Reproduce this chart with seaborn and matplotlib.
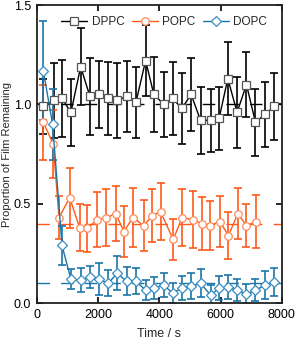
import pandas as pd
import matplotlib
matplotlib.use("Agg")
import matplotlib.pyplot as plt
import seaborn as sns

# Time points (s) and film proportions
dppc_t = [215, 564, 825, 1118, 1435, 1738, 2021, 2336, 2629, 2935, 3238, 3554, 3825,
          4151, 4435, 4738, 5041, 5348, 5674, 5954, 6238, 6541, 6847, 7140, 7453, 7760]
dppc_y = [0.99, 1.02, 1.03, 0.96, 1.19, 1.04, 1.05, 1.03, 1.02, 1.04, 1.01, 1.22, 1.05,
          1.00, 1.03, 0.98, 1.05, 0.92, 0.92, 0.93, 1.13, 0.96, 1.10, 0.91, 0.95, 0.99]
dppc_err = [0.14, 0.19, 0.195, 0.17, 0.195, 0.195, 0.17, 0.185, 0.19, 0.18, 0.18, 0.18, 0.19,
            0.165, 0.185, 0.18, 0.185, 0.17, 0.16, 0.16, 0.185, 0.18, 0.165, 0.17, 0.165, 0.17]

popc_t = [215, 541, 727, 1076, 1402, 1650, 1976, 2276, 2579, 2846, 3140, 3499,
          3769, 4043, 4454, 4747, 5086, 5390, 5651, 5977, 6260, 6564, 6847, 7173]
popc_y = [0.91, 0.80, 0.43, 0.53, 0.38, 0.376, 0.42, 0.43, 0.45, 0.36, 0.43, 0.39,
          0.44, 0.46, 0.32, 0.43, 0.42, 0.40, 0.39, 0.41, 0.34, 0.45, 0.39, 0.41]
popc_err = [0.19, 0.17, 0.11, 0.15, 0.12, 0.12, 0.14, 0.145, 0.14, 0.13, 0.15, 0.13,
            0.135, 0.145, 0.105, 0.145, 0.145, 0.135, 0.125, 0.13, 0.12, 0.13, 0.11, 0.135]

dopc_t = [215, 520, 825, 1118, 1435, 1738, 2021, 2336, 2629, 2935, 3238, 3554, 3825,
          4151, 4435, 4738, 5041, 5348, 5674, 5954, 6238, 6541, 6847, 7140, 7453, 7760]
dopc_y = [1.17, 0.90, 0.29, 0.12, 0.115, 0.13, 0.12, 0.10, 0.15, 0.11, 0.11, 0.065, 0.075,
          0.09, 0.05, 0.075, 0.085, 0.10, 0.04, 0.075, 0.08, 0.065, 0.045, 0.065, 0.09, 0.105]
dopc_err = [0.25, 0.18, 0.10, 0.05, 0.06, 0.055, 0.08, 0.065, 0.085, 0.07, 0.065, 0.05, 0.055,
            0.06, 0.05, 0.06, 0.065, 0.07, 0.05, 0.06, 0.06, 0.055, 0.05, 0.055, 0.07, 0.07]

# plateau levels (dashed guides)
levels = {"DPPC": 1.0, "POPC": 0.4, "DOPC": 0.1}

series = [
    ("DPPC", dppc_t, dppc_y, dppc_err, "black", "#555555", "s", 5.2),
    ("POPC", popc_t, popc_y, popc_err, "#ff5a1a", "#ff8a5a", "o", 5.4),
    ("DOPC", dopc_t, dopc_y, dopc_err, "#1b75a8", "#3a8cc0", "D", 4.6),
]

sns.set_style("ticks")
plt.rcParams["font.family"] = ["Liberation Sans", "DejaVu Sans"]

fig = plt.figure(figsize=(2.96, 3.39), dpi=100)
ax = fig.add_axes([0.124, 0.106, 0.828, 0.879])

for name, t, y, err, col, edge, mk, ms in series:
    ax.axhline(levels[name], color=col, lw=1.0, linestyle=(0, (9, 8)), zorder=1)

for name, t, y, err, col, edge, mk, ms in series:
    df = pd.DataFrame({"Time": t, "Value": y})
    ax.errorbar(t, y, yerr=err, fmt="none", ecolor=col, elinewidth=1.2,
                capsize=2.6, capthick=1.2, zorder=2)
    sns.lineplot(ax=ax, x="Time", y="Value", data=df, color=col, lw=1.0,
                 marker=mk, markersize=ms,
                 markerfacecolor="white", markeredgecolor=edge,
                 markeredgewidth=0.9, label=name, zorder=3)

ax.set_xlim(0, 8000)
ax.set_ylim(0, 1.5)
ax.set_xticks([0, 2000, 4000, 6000, 8000])
ax.set_yticks([0.0, 0.5, 1.0, 1.5])
ax.set_xlabel("Time / s", fontsize=9, labelpad=5)
ax.set_ylabel("Proportion of Film Remaining", fontsize=8)
ax.yaxis.set_label_coords(-0.10, 0.5)
ax.tick_params(direction="in", top=True, right=True, length=4, width=1.2,
               labelsize=9, colors="black", pad=4)
for sp in ax.spines.values():
    sp.set_linewidth(1.3)
    sp.set_color("#222222")

ax.legend(loc="upper center", bbox_to_anchor=(0.52, 1.0), ncol=3, frameon=False,
          fontsize=8.5, handlelength=2.2, columnspacing=0.6, handletextpad=0.4,
          borderaxespad=0.5)

fig.savefig("out.png", dpi=100)
